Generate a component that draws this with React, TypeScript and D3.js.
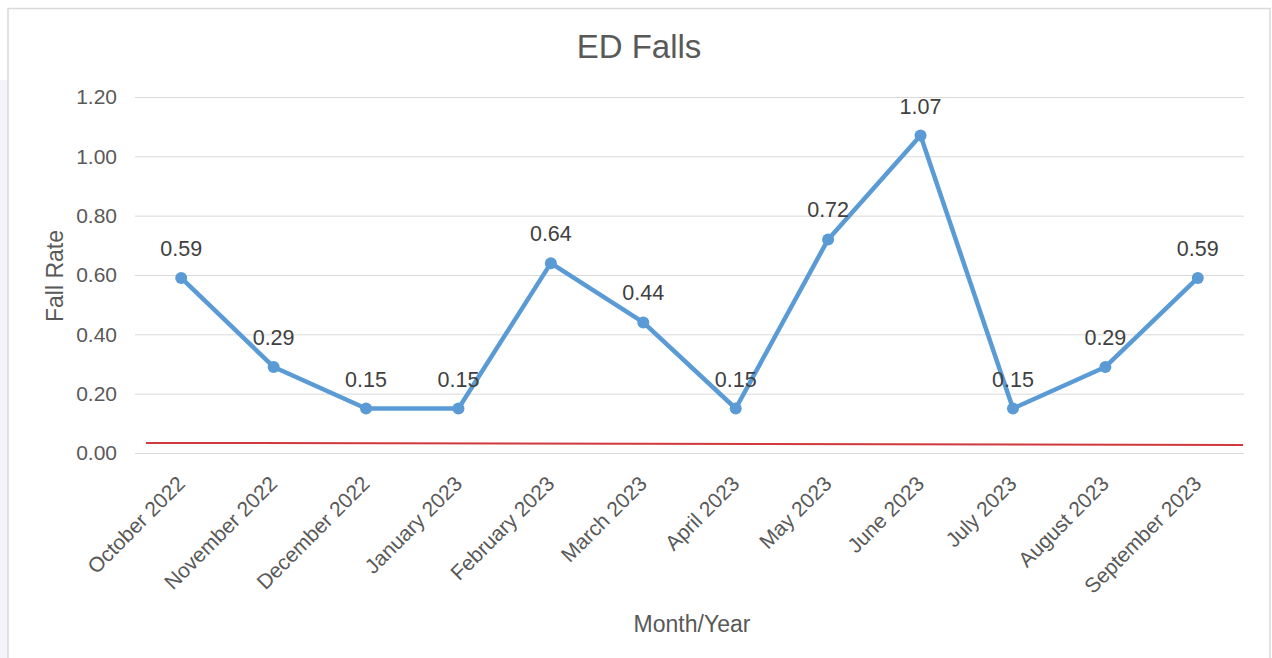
import React, { useEffect, useRef } from "react";
import * as d3 from "d3";

const categories = [
  "October 2022", "November 2022", "December 2022", "January 2023",
  "February 2023", "March 2023", "April 2023", "May 2023",
  "June 2023", "July 2023", "August 2023", "September 2023",
];
const fallRate = [0.59, 0.29, 0.15, 0.15, 0.64, 0.44, 0.15, 0.72, 1.07, 0.15, 0.29, 0.59];
const targetLine = [0.034, 0.027];
const yTicks = [0, 0.2, 0.4, 0.6, 0.8, 1.0, 1.2];

const W = 1272, H = 658;
const M = { left: 135, right: 1244, top: 97, bottom: 453 };
const FONT = "'Liberation Sans', Arial, sans-serif";

export default function App() {
  const ref = useRef<SVGSVGElement>(null);
  useEffect(() => {
    const svg = d3.select(ref.current);
    svg.selectAll("*").remove();

    svg.append("rect").attr("x", 0).attr("y", 0).attr("width", W).attr("height", H).attr("fill", "#ffffff");
    svg.append("rect").attr("x", 0).attr("y", 80).attr("width", 8).attr("height", H - 80).attr("fill", "#f3f3fa");
    svg.append("rect").attr("x", 8).attr("y", 8.5).attr("width", 1262).attr("height", H).attr("fill", "#ffffff").attr("stroke", "#d9d9d9").attr("stroke-width", 1.5);

    const x = d3.scaleBand().domain(categories).range([M.left, M.right]).padding(0);
    const y = d3.scaleLinear().domain([0, 1.2]).range([M.bottom, M.top]);
    const cx = (c: string) => (x(c) as number) + x.bandwidth() / 2;

    // grid
    const yAxis = d3.axisLeft(y).tickValues(yTicks).tickFormat(d3.format(".2f")).tickSize(-(M.right - M.left)).tickPadding(18);
    const gy = svg.append("g").attr("transform", `translate(${M.left},0)`).call(yAxis);
    gy.select(".domain").remove();
    gy.selectAll(".tick line").attr("stroke", "#d9d9d9").attr("stroke-width", 1);
    gy.selectAll(".tick text").attr("fill", "#595959").attr("font-size", 21).attr("font-family", FONT);

    // x axis
    const xAxis = d3.axisBottom(x).tickSize(0).tickPadding(0);
    const gx = svg.append("g").attr("transform", `translate(0,${M.bottom})`).call(xAxis);
    gx.select(".domain").remove();
    gx.selectAll(".tick text")
      .attr("fill", "#595959").attr("font-size", 21).attr("font-family", FONT)
      .attr("text-anchor", "end").attr("dy", 0).attr("y", 0)
      .attr("transform", "translate(5,32) rotate(-45)");

    // target red line
    const tx = d3.scaleLinear().domain([0, 1]).range([M.left + 11, M.right - 1]);
    svg.append("line")
      .attr("x1", tx(0)).attr("x2", tx(1))
      .attr("y1", y(targetLine[0])).attr("y2", y(targetLine[1]))
      .attr("stroke", "#d0393e").attr("stroke-width", 2);

    // series
    const line = d3.line<number>().x((_, i) => cx(categories[i])).y((d) => y(d));
    svg.append("path").datum(fallRate).attr("d", line).attr("fill", "none")
      .attr("stroke", "#5b9bd5").attr("stroke-width", 4.5).attr("stroke-linejoin", "round");
    svg.selectAll("circle.pt").data(fallRate).enter().append("circle")
      .attr("cx", (_, i) => cx(categories[i])).attr("cy", (d) => y(d)).attr("r", 6)
      .attr("fill", "#5b9bd5");
    svg.selectAll("text.lbl").data(fallRate).enter().append("text")
      .attr("x", (_, i) => cx(categories[i])).attr("y", (d) => y(d) - 22)
      .attr("text-anchor", "middle").attr("fill", "#404040").attr("font-size", 21.5).attr("font-family", FONT)
      .text((d) => d.toFixed(2));

    // titles
    svg.append("text").attr("x", 639).attr("y", 58).attr("text-anchor", "middle")
      .attr("fill", "#595959").attr("font-size", 33).attr("font-family", FONT).text("ED Falls");
    svg.append("text").attr("transform", `translate(63,276) rotate(-90)`).attr("text-anchor", "middle")
      .attr("fill", "#595959").attr("font-size", 23).attr("font-family", FONT).text("Fall Rate");
    svg.append("text").attr("x", 692).attr("y", 632).attr("text-anchor", "middle")
      .attr("fill", "#595959").attr("font-size", 23).attr("font-family", FONT).text("Month/Year");
  }, []);
  return (
    <svg ref={ref} width={W} height={H} style={{ position: "absolute", left: 0, top: 0 }} />
  );
}
